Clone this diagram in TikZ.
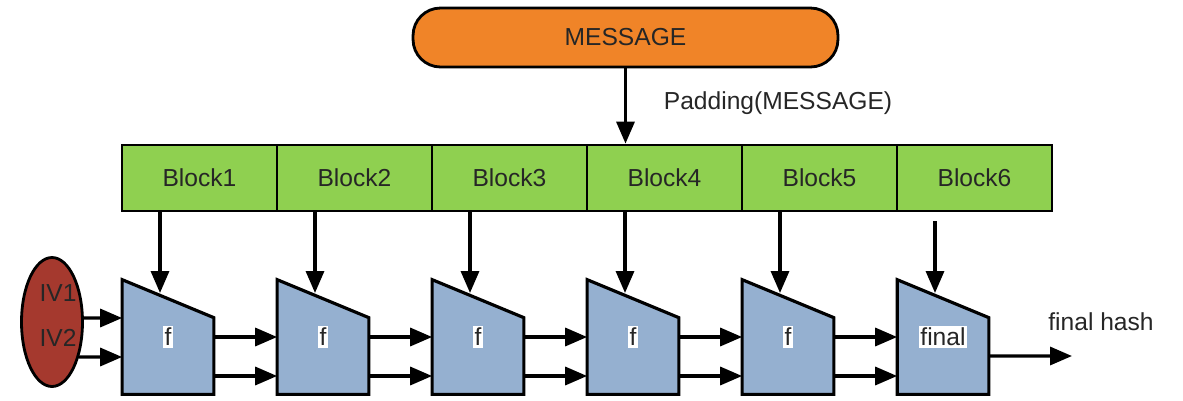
\documentclass[tikz,border=0pt]{standalone}
\usepackage{fontspec}
\setmainfont{Liberation Sans}
\usepackage{tikz}
\usetikzlibrary{arrows.meta,shapes.geometric,positioning,calc}
\definecolor{msgorange}{RGB}{240,132,40}
\definecolor{blkgreen}{RGB}{143,208,80}
\definecolor{fblue}{RGB}{149,176,208}
\definecolor{ivred}{RGB}{165,57,46}

\begin{document}
\begin{tikzpicture}[x=0.02cm, y=-0.02cm,
    every node/.style={font=\fontsize{14}{16}\selectfont, text=black!85},
    msg/.style={draw, line width=1.6pt, rounded corners=0.55cm, fill=msgorange, minimum width=8.5cm, minimum height=1.18cm},
    blk/.style={draw, line width=1.6pt, fill=blkgreen, minimum width=3.1cm, minimum height=1.32cm},
    ivnode/.style={draw, ellipse, line width=1.6pt, fill=ivred, minimum width=1.22cm, minimum height=2.58cm},
    fbox/.style={minimum width=1.82cm, minimum height=2.28cm, inner sep=0pt},
    fshape/.style={draw, line width=1.8pt, fill=fblue},
    flabel/.style={fill=white, inner sep=1pt},
    arr/.style={-{Triangle[length=0.44cm,width=0.36cm]}, line width=1.9pt}
]
\useasboundingbox (0,0) rectangle (1183,400);

\node[msg] (msg) at (625.5,37.5) {MESSAGE};

\node[blk] (b1) at (199.5,178) {Block1};
\node[blk] (b2) at (354.5,178) {Block2};
\node[blk] (b3) at (509.5,178) {Block3};
\node[blk] (b4) at (664.5,178) {Block4};
\node[blk] (b5) at (819.5,178) {Block5};
\node[blk] (b6) at (974.5,178) {Block6};

\draw[arr] (msg.south) -- (msg.south |- b4.north);
\node (pad) at (778,103) {Padding(MESSAGE)};

\node[ivnode] (iv) at (52,322) {};
\node (iv1) at (58,293) {IV1};
\node (iv2) at (58,338) {IV2};

\node[fbox] (t1) at (168,337) {};
\draw[fshape] (t1.north west) -- ([yshift=-0.76cm]t1.north east) -- (t1.south east) -- (t1.south west) -- cycle;
\node[flabel] (l1) at (t1) {f};
\node[fbox] (t2) at (323,337) {};
\draw[fshape] (t2.north west) -- ([yshift=-0.76cm]t2.north east) -- (t2.south east) -- (t2.south west) -- cycle;
\node[flabel] (l2) at (t2) {f};
\node[fbox] (t3) at (478,337) {};
\draw[fshape] (t3.north west) -- ([yshift=-0.76cm]t3.north east) -- (t3.south east) -- (t3.south west) -- cycle;
\node[flabel] (l3) at (t3) {f};
\node[fbox] (t4) at (633,337) {};
\draw[fshape] (t4.north west) -- ([yshift=-0.76cm]t4.north east) -- (t4.south east) -- (t4.south west) -- cycle;
\node[flabel] (l4) at (t4) {f};
\node[fbox] (t5) at (788,337) {};
\draw[fshape] (t5.north west) -- ([yshift=-0.76cm]t5.north east) -- (t5.south east) -- (t5.south west) -- cycle;
\node[flabel] (l5) at (t5) {f};
\node[fbox] (t6) at (943,337) {};
\draw[fshape] (t6.north west) -- ([yshift=-0.76cm]t6.north east) -- (t6.south east) -- (t6.south west) -- cycle;
\node[flabel] (l6) at (t6) {final};

\coordinate (a1) at (160,293);
\coordinate (a2) at (315,293);
\coordinate (a3) at (470,293);
\coordinate (a4) at (625,293);
\coordinate (a5) at (780,293);
\coordinate (a6) at (935,293);
\draw[arr] (b1.south -| a1) -- (a1);
\draw[arr] (b2.south -| a2) -- (a2);
\draw[arr] (b3.south -| a3) -- (a3);
\draw[arr] (b4.south -| a4) -- (a4);
\draw[arr] (b5.south -| a5) -- (a5);
\draw[arr, shorten <=0.18cm] (b6.south -| a6) -- (a6);

\draw[arr] ([yshift=0.08cm]iv.east) -- ([yshift=0.38cm]t1.west);
\draw[arr] ([xshift=-0.1cm,yshift=-0.7cm]iv.east) -- ([yshift=-0.4cm]t1.west);

\draw[arr] (t1.east) -- (t2.west);
\draw[arr] ([yshift=-0.78cm]t1.east) -- ([yshift=-0.78cm]t2.west);
\draw[arr] (t2.east) -- (t3.west);
\draw[arr] ([yshift=-0.78cm]t2.east) -- ([yshift=-0.78cm]t3.west);
\draw[arr] (t3.east) -- (t4.west);
\draw[arr] ([yshift=-0.78cm]t3.east) -- ([yshift=-0.78cm]t4.west);
\draw[arr] (t4.east) -- (t5.west);
\draw[arr] ([yshift=-0.78cm]t4.east) -- ([yshift=-0.78cm]t5.west);
\draw[arr] (t5.east) -- (t6.west);
\draw[arr] ([yshift=-0.78cm]t5.east) -- ([yshift=-0.78cm]t6.west);

\coordinate (out) at (1072,356);
\draw[arr] ([yshift=-0.38cm]t6.east) -- (out);
\node (fh) at (1101,322) {final hash};
\end{tikzpicture}
\end{document}
